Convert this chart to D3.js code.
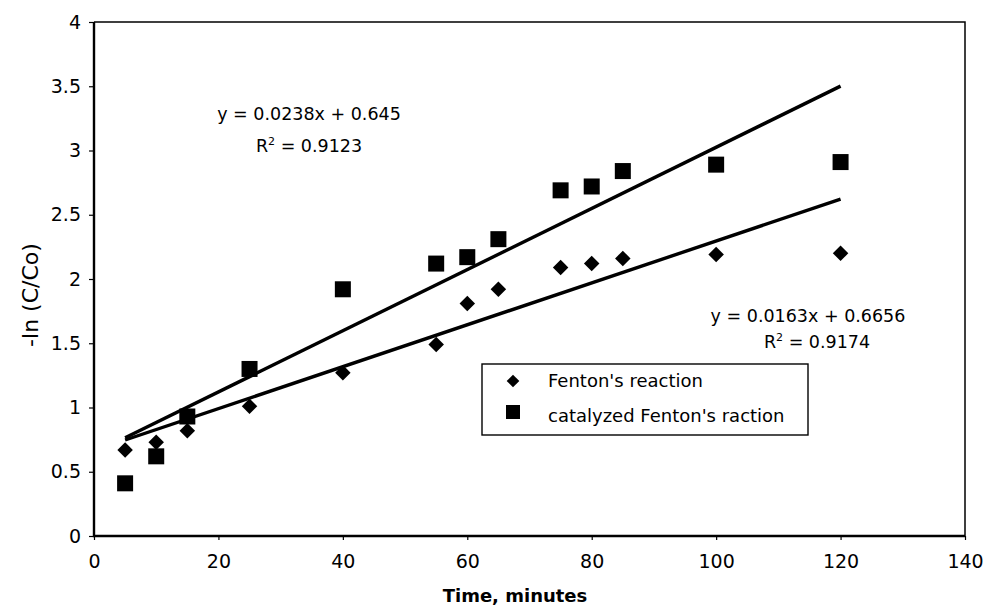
<!DOCTYPE html>
<html><head><meta charset="utf-8">
<script src="https://cdn.jsdelivr.net/npm/d3@7"></script>
<style>
body{margin:0;background:#fff;}
text{font-family:"DejaVu Sans",sans-serif;fill:#000;}
</style></head>
<body><svg id="c" width="984" height="608"></svg>
<script>
const times = [5,10,15,25,40,55,60,65,75,80,85,100,120];
const fenton = [0.67,0.73,0.82,1.01,1.27,1.49,1.81,1.92,2.09,2.12,2.16,2.19,2.20];
const catalyzed = [0.41,0.62,0.93,1.30,1.92,2.12,2.17,2.31,2.69,2.72,2.84,2.89,2.91];
const trendSlopes = [0.0163,0.0238];
const trendIntercepts = [0.6656,0.645];
const trendRange = [5,120];
const xTicks = [0,20,40,60,80,100,120,140];
const yTicks = [0,0.5,1,1.5,2,2.5,3,3.5,4];
const seriesNames = ["Fenton's reaction","catalyzed Fenton's raction"];

const svg = d3.select("#c");
const L=94,R=965,T=22,B=536;
const x = d3.scaleLinear().domain([0,140]).range([L,R]);
const y = d3.scaleLinear().domain([0,4]).range([B,T]);

// frame
svg.append("path").attr("d",`M${L},${T}H${R}V${B}`).attr("fill","none").attr("stroke","#000").attr("stroke-width",1.5);
svg.append("path").attr("d",`M${L},${T}V${B}H${R}`).attr("fill","none").attr("stroke","#000").attr("stroke-width",2.4);

const xa = svg.append("g").attr("transform",`translate(0,${B})`)
  .call(d3.axisBottom(x).tickValues(xTicks).tickSize(4).tickPadding(15).tickFormat(d3.format("d")));
xa.select(".domain").remove();
xa.selectAll("text").attr("font-size",19).attr("font-family","DejaVu Sans");
xa.selectAll("line").attr("stroke","#000").attr("stroke-width",1.2);

const ya = svg.append("g").attr("transform",`translate(${L},0)`)
  .call(d3.axisLeft(y).tickValues(yTicks).tickSize(5).tickPadding(8).tickFormat(d=>String(d)));
ya.select(".domain").remove();
ya.selectAll("text").attr("font-size",19).attr("font-family","DejaVu Sans");
ya.selectAll("line").attr("stroke","#000").attr("stroke-width",1.2);

// axis titles
svg.append("text").attr("x",515).attr("y",602).attr("text-anchor","middle")
  .attr("font-size",18).attr("font-weight","bold").text("Time, minutes");
svg.append("text").attr("transform",`translate(38,295) rotate(-90)`).attr("text-anchor","middle")
  .attr("font-size",22).text("-ln (C/Co)");

// trendlines
trendSlopes.forEach((m,i)=>{
  const b = trendIntercepts[i];
  svg.append("line")
    .attr("x1",x(trendRange[0])).attr("y1",y(m*trendRange[0]+b))
    .attr("x2",x(trendRange[1])).attr("y2",y(m*trendRange[1]+b))
    .attr("stroke","#000").attr("stroke-width",3.4);
});

// markers
svg.append("g").selectAll("path").data(times).join("path")
  .attr("transform",(d,i)=>`translate(${x(d)},${y(fenton[i])}) rotate(45)`)
  .attr("d",d3.symbol().type(d3.symbolSquare).size(120)).attr("fill","#000");
svg.append("g").selectAll("rect").data(times).join("rect")
  .attr("x",d=>x(d)-8).attr("y",(d,i)=>y(catalyzed[i])-8)
  .attr("width",16).attr("height",16).attr("fill","#000");

// equation labels
svg.append("text").attr("x",309).attr("y",120).attr("text-anchor","middle").attr("font-size",17.5)
  .text("y = 0.0238x + 0.645");
const r1 = svg.append("text").attr("x",309).attr("y",152).attr("text-anchor","middle").attr("font-size",17.5);
r1.append("tspan").text("R");
r1.append("tspan").attr("dy",-7).attr("font-size",11).text("2");
r1.append("tspan").attr("dy",7).text(" = 0.9123");

svg.append("text").attr("x",808).attr("y",322).attr("text-anchor","middle").attr("font-size",17.5)
  .text("y = 0.0163x + 0.6656");
const r2 = svg.append("text").attr("x",817).attr("y",348).attr("text-anchor","middle").attr("font-size",17.5);
r2.append("tspan").text("R");
r2.append("tspan").attr("dy",-7).attr("font-size",11).text("2");
r2.append("tspan").attr("dy",7).text(" = 0.9174");

// legend
const lg = svg.append("g");
lg.append("rect").attr("x",482).attr("y",364).attr("width",326).attr("height",71)
  .attr("fill","#fff").attr("stroke","#000").attr("stroke-width",1.4);
lg.append("path").attr("transform","translate(513,381) rotate(45)")
  .attr("d",d3.symbol().type(d3.symbolSquare).size(80)).attr("fill","#000");
lg.append("rect").attr("x",506).attr("y",405).attr("width",14).attr("height",14).attr("fill","#000");
seriesNames.forEach((n,i)=>{
  lg.append("text").attr("x",548).attr("y",387+i*35).attr("font-size",18).text(n);
});
</script></body></html>
